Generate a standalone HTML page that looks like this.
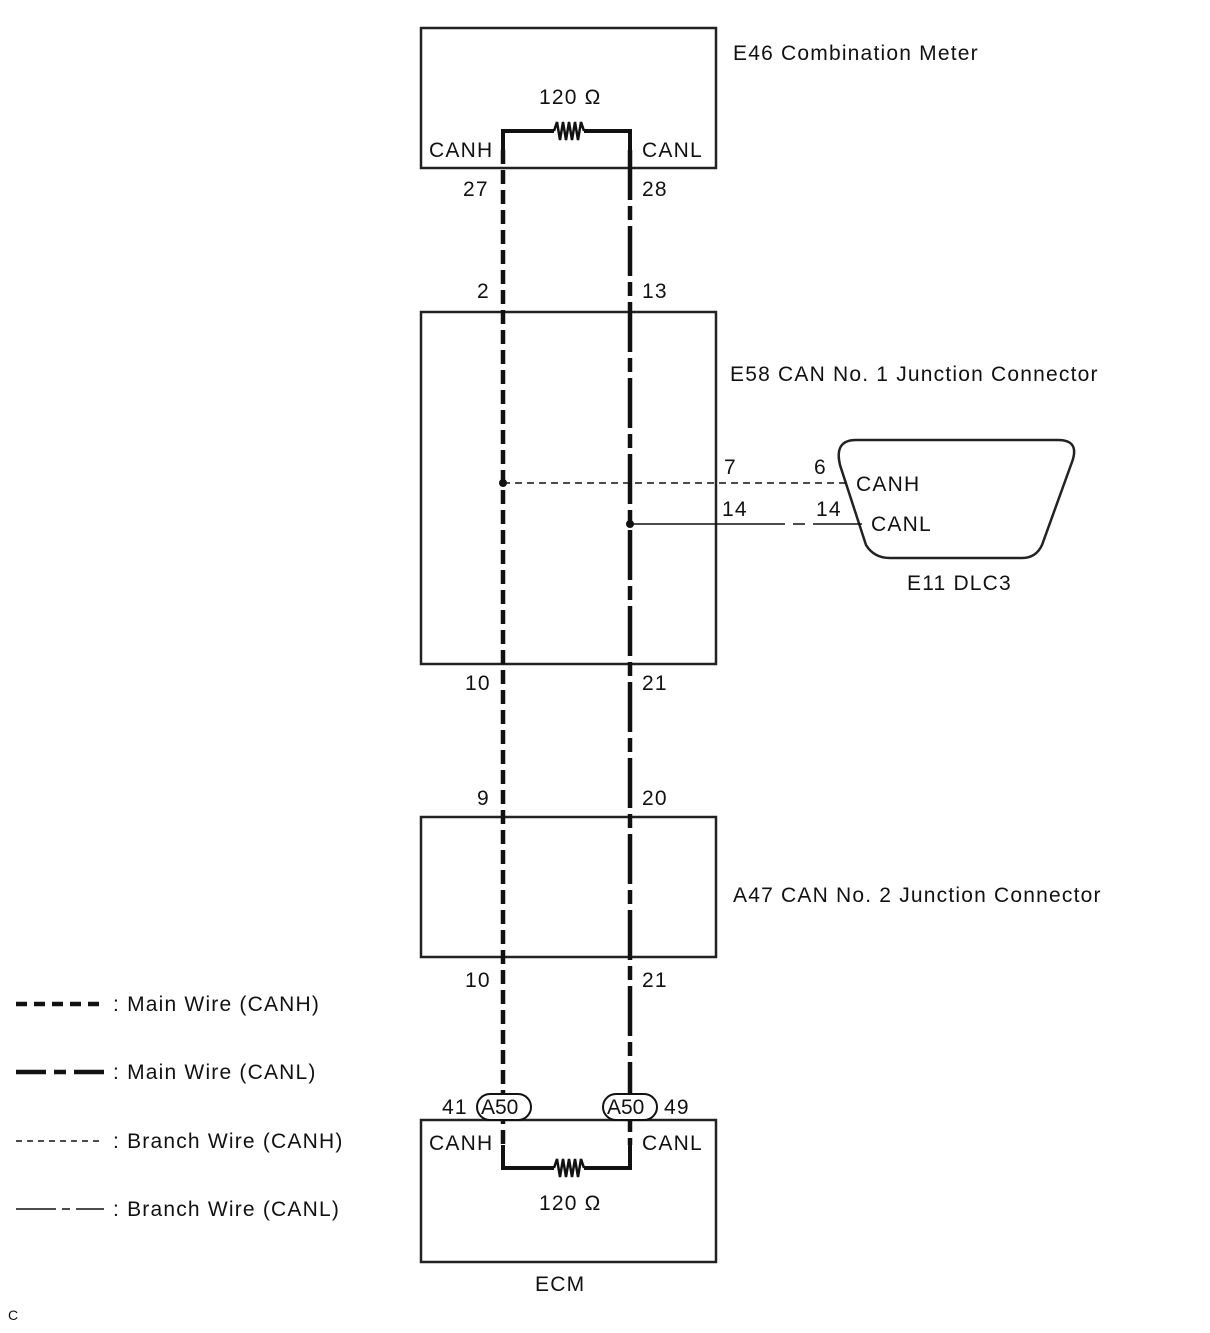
<!DOCTYPE html>
<html><head><meta charset="utf-8"><style>
html,body{margin:0;padding:0;background:#fff;}
svg text{font-family:"Liberation Sans",Arial,sans-serif;font-size:21px;letter-spacing:1.2px;fill:#111;}
</style></head><body>
<svg width="1210" height="1328" viewBox="0 0 1210 1328" xmlns="http://www.w3.org/2000/svg">
<g fill="none" stroke="#222" stroke-width="2.5">
<rect x="421" y="28" width="295" height="140"/>
<rect x="421" y="312" width="295" height="352"/>
<rect x="421" y="817" width="295" height="140"/>
<rect x="421" y="1120" width="295" height="142"/>
<path d="M856 440 L1058 440 Q1080 440 1072 462 L1042 545 Q1036 558 1022 558 L890 558 Q874 558 866 545 L840 465 Q834 440 856 440 Z"/>
</g>
<g fill="none" stroke="#111" stroke-width="4">
<path d="M503 150 L503 131 L554 131 M584 131 L630 131 L630 150"/>
<path d="M503 1145 L503 1168 L554 1168 M584 1168 L630 1168 L630 1145"/>
</g>
<g fill="none" stroke="#111" stroke-width="2.5">
<path d="M554 131 L557 122 L560 140 L563 122 L566 140 L569 122 L572 140 L575 122 L578 140 L581 122 L584 131"/>
<path d="M554 1168 L557 1159 L560 1177 L563 1159 L566 1177 L569 1159 L572 1177 L575 1159 L578 1177 L581 1159 L584 1168"/>
</g>
<line x1="503" y1="150" x2="503" y2="1145" stroke="#111" stroke-width="4.5" stroke-dasharray="14 6"/>
<line x1="630" y1="150" x2="630" y2="1145" stroke="#111" stroke-width="4.5" stroke-dasharray="50 6 14 6"/>
<line x1="503" y1="483" x2="846" y2="483" stroke="#111" stroke-width="1.5" stroke-dasharray="7 5"/>
<line x1="630" y1="524" x2="862" y2="524" stroke="#111" stroke-width="1.5" stroke-dasharray="155 8 12 8 100"/>
<circle cx="503" cy="483" r="4" fill="#111"/>
<circle cx="630" cy="524" r="4" fill="#111"/>
<rect x="477" y="1094" width="54" height="26" rx="13" fill="#fff" stroke="#111" stroke-width="2"/>
<rect x="603" y="1094" width="54" height="26" rx="13" fill="#fff" stroke="#111" stroke-width="2"/>
<text x="481" y="1114" style="letter-spacing:0">A50</text><text x="607" y="1114" style="letter-spacing:0">A50</text>
<text x="733" y="60">E46 Combination Meter</text>
<text x="539" y="104">120 Ω</text>
<text x="429" y="157">CANH</text><text x="642" y="157">CANL</text>
<text x="463" y="196">27</text><text x="642" y="196">28</text>
<text x="477" y="298">2</text><text x="642" y="298">13</text>
<text x="730" y="381">E58 CAN No. 1 Junction Connector</text>
<text x="724" y="474">7</text><text x="814" y="474">6</text>
<text x="722" y="516">14</text><text x="816" y="516">14</text>
<text x="856" y="491">CANH</text><text x="871" y="531">CANL</text>
<text x="907" y="590">E11 DLC3</text>
<text x="465" y="690">10</text><text x="642" y="690">21</text>
<text x="477" y="805">9</text><text x="642" y="805">20</text>
<text x="733" y="902">A47 CAN No. 2 Junction Connector</text>
<text x="465" y="987">10</text><text x="642" y="987">21</text>
<text x="442" y="1114">41</text><text x="664" y="1114">49</text>
<text x="429" y="1150">CANH</text><text x="642" y="1150">CANL</text>
<text x="539" y="1210">120 Ω</text>
<text x="535" y="1291">ECM</text>
<text x="8" y="1320" style="font-size:14px;letter-spacing:0">C</text>
<line x1="16" y1="1004" x2="102" y2="1004" stroke="#111" stroke-width="4.5" stroke-dasharray="11 7"/>
<text x="113" y="1011">: Main Wire (CANH)</text>
<line x1="16" y1="1072" x2="104" y2="1072" stroke="#111" stroke-width="4.5" stroke-dasharray="30 8 12 8"/>
<text x="113" y="1079">: Main Wire (CANL)</text>
<line x1="16" y1="1141" x2="104" y2="1141" stroke="#111" stroke-width="1.5" stroke-dasharray="6 5"/>
<text x="113" y="1148">: Branch Wire (CANH)</text>
<line x1="16" y1="1209" x2="104" y2="1209" stroke="#111" stroke-width="1.5" stroke-dasharray="40 6 8 6 40"/>
<text x="113" y="1216">: Branch Wire (CANL)</text>
</svg>
</body></html>
